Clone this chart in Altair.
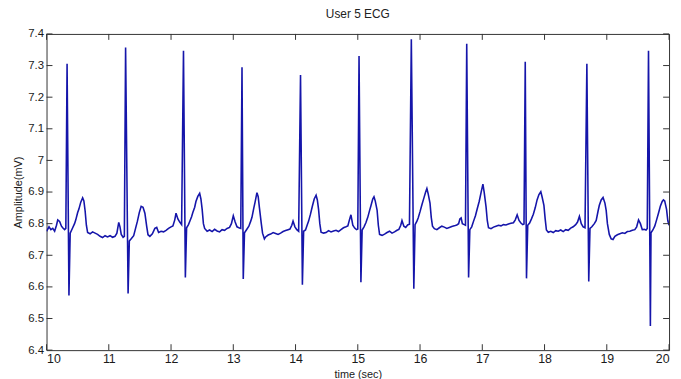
import altair as alt
import pandas as pd

# ECG trace (time in s, amplitude in mV)
time_sec = (
    [10.00, 10.04, 10.07, 10.10, 10.13, 10.16, 10.18, 10.21, 10.24, 10.26, 10.29, 10.31]
    + [10.33, 10.36, 10.38, 10.42, 10.45, 10.47, 10.50, 10.52, 10.55, 10.58, 10.60, 10.62, 10.64, 10.66, 10.70, 10.74, 10.78, 10.82, 10.86, 10.90, 10.94, 10.98, 11.02, 11.06, 11.10, 11.13, 11.16, 11.18, 11.20, 11.23, 11.25]
    + [11.27, 11.31, 11.33, 11.36, 11.40, 11.43, 11.46, 11.49, 11.52, 11.55, 11.58, 11.61, 11.63, 11.66, 11.70, 11.74, 11.77, 11.80, 11.84, 11.88, 11.92, 11.96, 12.00, 12.03, 12.06, 12.08, 12.11, 12.14, 12.17]
    + [12.20, 12.23, 12.25, 12.28, 12.30, 12.33, 12.35, 12.38, 12.40, 12.43, 12.46, 12.48, 12.50, 12.52, 12.54, 12.58, 12.62, 12.66, 12.70, 12.74, 12.78, 12.82, 12.86, 12.90, 12.94, 12.97, 13.00, 13.03, 13.06, 13.10, 13.12]
    + [13.14, 13.16, 13.18, 13.21, 13.25, 13.28, 13.30, 13.33, 13.35, 13.38, 13.40, 13.42, 13.45, 13.47, 13.50, 13.52, 13.56, 13.60, 13.64, 13.68, 13.72, 13.76, 13.80, 13.84, 13.88, 13.91, 13.94, 13.96, 13.99, 14.02, 14.05]
    + [14.08, 14.11, 14.13, 14.16, 14.19, 14.21, 14.24, 14.27, 14.30, 14.33, 14.35, 14.37, 14.39, 14.41, 14.45, 14.49, 14.53, 14.57, 14.61, 14.65, 14.69, 14.73, 14.77, 14.81, 14.84, 14.87, 14.89, 14.92, 14.95, 14.98, 15.00]
    + [15.02, 15.05, 15.07, 15.10, 15.13, 15.16, 15.19, 15.21, 15.24, 15.26, 15.28, 15.31, 15.33, 15.35, 15.39, 15.43, 15.47, 15.51, 15.55, 15.59, 15.63, 15.66, 15.69, 15.71, 15.74, 15.77, 15.80, 15.83]
    + [15.86, 15.90, 15.92, 15.95, 15.97, 16.00, 16.03, 16.06, 16.09, 16.11, 16.13, 16.16, 16.18, 16.20, 16.23, 16.27, 16.31, 16.35, 16.39, 16.43, 16.47, 16.51, 16.55, 16.59, 16.62, 16.64, 16.66, 16.68, 16.71, 16.73]
    + [16.75, 16.78, 16.80, 16.83, 16.86, 16.89, 16.92, 16.95, 16.98, 17.01, 17.03, 17.06, 17.08, 17.10, 17.14, 17.18, 17.22, 17.26, 17.30, 17.34, 17.38, 17.42, 17.46, 17.50, 17.53, 17.56, 17.59, 17.62, 17.65, 17.67]
    + [17.69, 17.71, 17.73, 17.76, 17.79, 17.82, 17.85, 17.88, 17.91, 17.94, 17.96, 17.99, 18.01, 18.03, 18.06, 18.10, 18.14, 18.18, 18.22, 18.26, 18.30, 18.34, 18.38, 18.42, 18.46, 18.50, 18.53, 18.56, 18.59, 18.62, 18.65]
    + [18.68, 18.71, 18.73, 18.76, 18.80, 18.83, 18.86, 18.88, 18.91, 18.94, 18.97, 18.99, 19.01, 19.04, 19.07, 19.10, 19.13, 19.17, 19.21, 19.25, 19.29, 19.33, 19.37, 19.41, 19.45, 19.48, 19.51, 19.54, 19.57, 19.60, 19.63, 19.65]
    + [19.67, 19.70, 19.71, 19.74, 19.77, 19.80, 19.83, 19.86, 19.89, 19.91, 19.93, 19.96, 19.98, 20.00]
)

amplitude_mv = (
    [6.776, 6.790, 6.781, 6.785, 6.776, 6.795, 6.812, 6.807, 6.792, 6.787, 6.781, 6.785]
    + [7.306, 6.573, 6.770, 6.787, 6.800, 6.812, 6.835, 6.846, 6.868, 6.882, 6.872, 6.840, 6.795, 6.772, 6.768, 6.774, 6.770, 6.766, 6.760, 6.756, 6.762, 6.758, 6.762, 6.757, 6.760, 6.770, 6.804, 6.790, 6.766, 6.757, 6.760]
    + [7.357, 6.579, 6.745, 6.752, 6.762, 6.785, 6.808, 6.835, 6.855, 6.852, 6.833, 6.790, 6.765, 6.760, 6.768, 6.785, 6.788, 6.772, 6.776, 6.774, 6.779, 6.785, 6.790, 6.793, 6.812, 6.833, 6.815, 6.805, 6.797]
    + [7.347, 6.630, 6.787, 6.797, 6.807, 6.822, 6.835, 6.852, 6.870, 6.886, 6.896, 6.878, 6.845, 6.800, 6.785, 6.776, 6.780, 6.775, 6.782, 6.777, 6.774, 6.781, 6.779, 6.785, 6.788, 6.800, 6.825, 6.805, 6.790, 6.786, 6.785]
    + [7.295, 6.625, 6.771, 6.780, 6.792, 6.808, 6.820, 6.850, 6.868, 6.898, 6.885, 6.850, 6.800, 6.770, 6.752, 6.758, 6.764, 6.767, 6.772, 6.769, 6.766, 6.770, 6.775, 6.778, 6.781, 6.783, 6.795, 6.808, 6.790, 6.781, 6.776]
    + [7.270, 6.607, 6.776, 6.780, 6.797, 6.808, 6.830, 6.855, 6.878, 6.890, 6.875, 6.845, 6.800, 6.773, 6.770, 6.772, 6.778, 6.774, 6.777, 6.779, 6.775, 6.781, 6.787, 6.790, 6.793, 6.815, 6.828, 6.795, 6.786, 6.781, 6.783]
    + [7.330, 6.615, 6.780, 6.790, 6.803, 6.820, 6.842, 6.856, 6.878, 6.885, 6.872, 6.843, 6.795, 6.766, 6.763, 6.767, 6.772, 6.776, 6.770, 6.774, 6.779, 6.782, 6.795, 6.810, 6.792, 6.788, 6.796, 6.798]
    + [7.383, 6.594, 6.797, 6.808, 6.818, 6.838, 6.860, 6.880, 6.900, 6.911, 6.895, 6.865, 6.820, 6.792, 6.784, 6.781, 6.787, 6.792, 6.789, 6.785, 6.788, 6.791, 6.793, 6.796, 6.800, 6.815, 6.818, 6.800, 6.797, 6.795]
    + [7.369, 6.630, 6.781, 6.790, 6.808, 6.825, 6.848, 6.870, 6.898, 6.925, 6.900, 6.854, 6.810, 6.787, 6.784, 6.789, 6.792, 6.795, 6.793, 6.797, 6.796, 6.799, 6.801, 6.803, 6.812, 6.828, 6.810, 6.802, 6.797, 6.799]
    + [7.312, 6.627, 6.795, 6.802, 6.815, 6.830, 6.850, 6.875, 6.892, 6.901, 6.885, 6.858, 6.815, 6.780, 6.773, 6.776, 6.772, 6.778, 6.776, 6.780, 6.775, 6.781, 6.779, 6.786, 6.790, 6.797, 6.805, 6.823, 6.800, 6.790, 6.787]
    + [7.306, 6.617, 6.785, 6.790, 6.800, 6.810, 6.840, 6.858, 6.875, 6.883, 6.865, 6.842, 6.800, 6.766, 6.752, 6.750, 6.760, 6.765, 6.768, 6.771, 6.769, 6.775, 6.776, 6.779, 6.781, 6.790, 6.812, 6.800, 6.781, 6.782, 6.780, 6.785]
    + [7.347, 6.476, 6.771, 6.780, 6.792, 6.812, 6.833, 6.855, 6.870, 6.875, 6.872, 6.845, 6.810, 6.795]
)

x_ticks = [10, 11, 12, 13, 14, 15, 16, 17, 18, 19, 20]
y_ticks = [6.4, 6.5, 6.6, 6.7, 6.8, 6.9, 7.0, 7.1, 7.2, 7.3, 7.4]

n = min(len(time_sec), len(amplitude_mv))
ecg = pd.DataFrame({"t": time_sec[:n], "v": amplitude_mv[:n]})
xt = pd.DataFrame({"t": x_ticks})
yt = pd.DataFrame({"v": y_ticks})

FONT = "Liberation Sans"
W, H = 630, 320
TICK = 6
FRAME = "#333333"

xs = alt.Scale(domain=[10, 20], nice=False, zero=False)
ys = alt.Scale(domain=[6.4, 7.4], nice=False, zero=False)
x_axis = alt.Axis(values=x_ticks, format="d", title="time (sec)", labelPadding=3,
                  titlePadding=3, labelFontSize=12.5)
y_axis = alt.Axis(values=y_ticks, format=".2~f", title="Amplitude(mV)", labelPadding=3,
                  titlePadding=4, labelFontSize=11.5)

X = alt.X("t:Q", scale=xs, axis=x_axis)
Y = alt.Y("v:Q", scale=ys, axis=y_axis)

line = alt.Chart(ecg).mark_line(color="#1515aa", strokeWidth=1.6, clip=True).encode(
    x=X, y=Y, order="t:Q")

x_bottom = alt.Chart(xt).mark_rule(color=FRAME, strokeWidth=1).encode(
    x=X, y=alt.value(H), y2=alt.value(H - TICK))
x_top = alt.Chart(xt).mark_rule(color=FRAME, strokeWidth=1).encode(
    x=X, y=alt.value(0), y2=alt.value(TICK))
y_left = alt.Chart(yt).mark_rule(color=FRAME, strokeWidth=1).encode(
    y=Y, x=alt.value(0), x2=alt.value(TICK))
y_right = alt.Chart(yt).mark_rule(color=FRAME, strokeWidth=1).encode(
    y=Y, x=alt.value(W), x2=alt.value(W - TICK))

chart = alt.layer(line, x_bottom, x_top, y_left, y_right).properties(
    width=W, height=H,
    title=alt.TitleParams("User 5 ECG", font=FONT, fontSize=12, fontWeight="normal",
                          color="#222222", offset=7),
    autosize=alt.AutoSizeParams(type="none"),
    padding={"left": 39, "top": 24, "right": 4, "bottom": 30},
).configure_axis(
    labelFont=FONT, labelColor="#1a1a1a",
    titleFont=FONT, titleFontSize=11, titleFontWeight="normal", titleColor="#1a1a1a",
    ticks=False, domain=False, grid=False,
).configure_view(stroke=FRAME, strokeWidth=1)

chart.save("out.html", embed_options={"renderer": "svg", "actions": False})
